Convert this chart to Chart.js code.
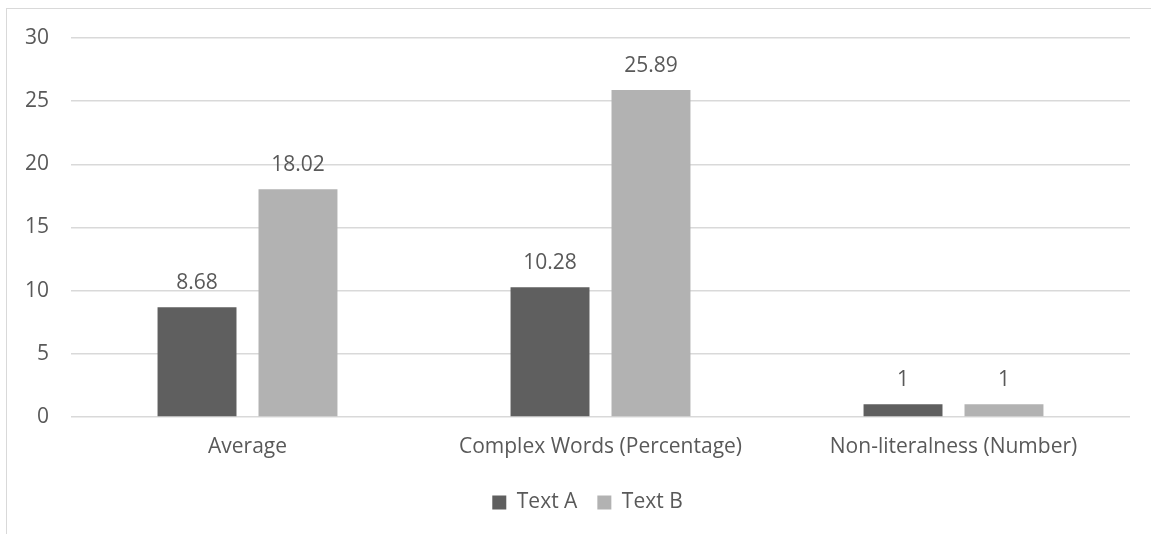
<!DOCTYPE html>
<html>
<head>
  <meta charset="UTF-8">
  <title>Text A vs Text B</title>
  <script src="https://cdn.jsdelivr.net/npm/chart.js@4/dist/chart.umd.min.js"></script>
  <style>
    html, body { margin: 0; padding: 0; background: #fff; }
    #frame {
      position: absolute; left: 6px; top: 8px; width: 1145px; height: 526px;
      border-left: 1px solid #d9d9d9; border-top: 1px solid #d9d9d9;
    }
  </style>
</head>
<body>
<div id="frame"><canvas id="myChart" width="1144" height="525"></canvas></div>
<script>
var categories = ["Average", "Complex Words (Percentage)", "Non-literalness (Number)"];
var textA = [8.68, 10.28, 1];
var textB = [18.02, 25.89, 1];
var yTicks = [0, 5, 10, 15, 20, 25, 30];

var FONT = "'Open Sans', sans-serif";
var GREY = "#595959";

// draws the value over each bar
var valueLabels = {
  id: "valueLabels",
  afterDatasetsDraw: function(chart) {
    var ctx = chart.ctx;
    ctx.save();
    ctx.font = "21px " + FONT;
    ctx.fillStyle = GREY;
    ctx.textAlign = "center";
    ctx.textBaseline = "middle";
    chart.data.datasets.forEach(function(ds, i) {
      chart.getDatasetMeta(i).data.forEach(function(bar, j) {
        ctx.fillText(String(ds.data[j]), bar.x, bar.y - 24);
      });
    });
    ctx.restore();
  }
};

// nudge the legend a bit to the right, like the original
var legendShift = {
  id: "legendShift",
  afterLayout: function(chart) {
    if (chart.legend) {
      chart.legend.left += 19;
      chart.legend.right += 19;
    }
  }
};

new Chart(document.getElementById("myChart"), {
  type: "bar",
  data: {
    labels: categories,
    datasets: [
      { label: "Text A", data: textA, backgroundColor: "#5f5f5f" },
      { label: "Text B", data: textB, backgroundColor: "#b2b2b2" }
    ]
  },
  options: {
    responsive: false,
    animation: false,
    datasets: { bar: { categoryPercentage: 0.572, barPercentage: 0.782 } },
    layout: { padding: { left: 0, right: 21, top: 29, bottom: 11 } },
    plugins: {
      legend: {
        position: "bottom",
        labels: {
          font: { family: FONT, size: 21 }, color: GREY,
          boxWidth: 14, boxHeight: 14, padding: 20
        }
      },
      tooltip: { enabled: false }
    },
    scales: {
      x: {
        grid: { display: false, drawTicks: false },
        border: { display: false },
        ticks: { font: { family: FONT, size: 21 }, color: GREY, padding: 17 },
        afterFit: function(s) { s.height = 55; }
      },
      y: {
        min: 0, max: 30,
        afterBuildTicks: function(s) { s.ticks = yTicks.map(function(v) { return { value: v }; }); },
        grid: { color: "#d9d9d9", lineWidth: 1.5, drawTicks: true, tickLength: 22, tickColor: "rgba(0,0,0,0)" },
        border: { display: false },
        ticks: { font: { family: FONT, size: 21 }, color: GREY, padding: 0 },
        afterFit: function(s) { s.width = 64; }
      }
    }
  },
  plugins: [valueLabels, legendShift]
});
</script>
</body>
</html>
